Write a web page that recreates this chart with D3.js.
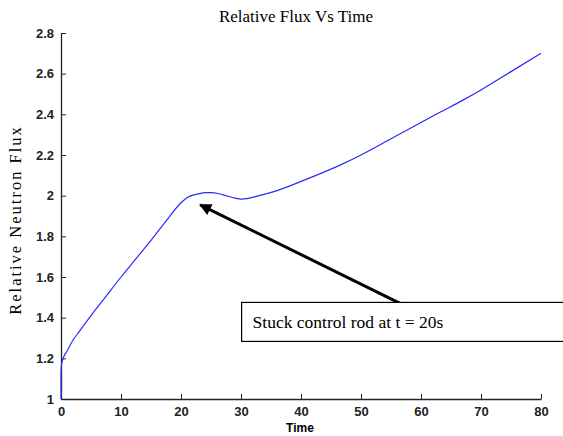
<!DOCTYPE html>
<html>
<head>
<meta charset="utf-8">
<script src="https://cdn.jsdelivr.net/npm/d3@7"></script>
<style>
  body { margin: 0; background: #fff; }
  svg { display: block; }
</style>
</head>
<body>
<svg id="chart" width="563" height="436"></svg>
<script>
// time (s) and relative flux
var time = [0, 0, 0.05, 0.2, 0.5, 1, 2, 3, 5, 7.5, 10, 12.5, 15, 17.5, 20, 21, 22, 23, 24, 25, 26, 27, 28, 29, 30, 31, 33, 36, 40, 46.5, 50, 55, 60, 62.5, 67, 70, 75, 80]
var flux = [1.0, 1.12, 1.16, 1.185, 1.21, 1.235, 1.29, 1.33, 1.41, 1.505, 1.60, 1.69, 1.78, 1.875, 1.965, 1.99, 2.003, 2.01, 2.015, 2.015, 2.012, 2.004, 1.996, 1.988, 1.983, 1.985, 2.0, 2.025, 2.07, 2.15, 2.2, 2.28, 2.36, 2.4, 2.47, 2.52, 2.61, 2.70]
var xTicks = [0, 10, 20, 30, 40, 50, 60, 70, 80]
var yTicks = [1, 1.2, 1.4, 1.6, 1.8, 2, 2.2, 2.4, 2.6, 2.8]
var note = 'Stuck control rod at t = 20s'

var svg = d3.select('#chart')
var margin = {top: 33, right: 22, bottom: 37, left: 61}
var width = 563 - margin.left - margin.right
var height = 436 - margin.top - margin.bottom

var x = d3.scaleLinear().domain([0, 80]).range([0, width])
var y = d3.scaleLinear().domain([1, 2.8]).range([height, 0])

var g = svg.append('g')
  .attr('transform', 'translate(' + margin.left + ',' + margin.top + ')')

var xAxis = g.append('g')
  .attr('transform', 'translate(0,' + height + ')')
  .call(d3.axisBottom(x).tickValues(xTicks).tickSize(-5).tickSizeOuter(0).tickPadding(8))
var yAxis = g.append('g')
  .call(d3.axisLeft(y).tickValues(yTicks).tickFormat(d3.format('')).tickSize(-5).tickSizeOuter(0).tickPadding(7))

g.selectAll('.domain').style('stroke', '#222').style('stroke-width', 1.3)
g.selectAll('.tick line').style('stroke', '#222')
g.selectAll('.tick text')
  .style('font-family', 'Arial, "Liberation Sans", sans-serif')
  .style('font-size', '13px')
  .style('font-weight', 'bold')
  .style('fill', '#222')

var pts = time.map(function(t, i){ return [t, flux[i]] })
var line = d3.line()
  .x(function(d){ return x(d[0]) })
  .y(function(d){ return y(d[1]) })
  .curve(d3.curveMonotoneX)

g.append('path')
  .datum(pts)
  .attr('d', line)
  .style('fill', 'none')
  .style('stroke', '#2a2aff')
  .style('stroke-width', 1.2)

// titles
svg.append('text')
  .attr('x', 296).attr('y', 22)
  .attr('text-anchor', 'middle')
  .style('font-family', '"Liberation Serif", "Times New Roman", serif')
  .style('font-size', '17px')
  .text('Relative Flux Vs Time')

svg.append('text')
  .attr('x', 300).attr('y', 432)
  .attr('text-anchor', 'middle')
  .style('font-family', 'Arial, "Liberation Sans", sans-serif')
  .style('font-size', '12px')
  .style('font-weight', 'bold')
  .text('Time')

svg.append('text')
  .attr('transform', 'translate(21,220) rotate(-90)')
  .attr('text-anchor', 'middle')
  .style('font-family', '"Liberation Serif", "Times New Roman", serif')
  .style('font-size', '16.5px')
  .style('letter-spacing', '2px')
  .text('Relative Neutron Flux')

// annotation arrow
svg.append('defs').append('marker')
  .attr('id', 'head')
  .attr('viewBox', '0 0 10 10')
  .attr('refX', 9).attr('refY', 5)
  .attr('markerWidth', 5).attr('markerHeight', 4)
  .attr('markerUnits', 'strokeWidth')
  .attr('orient', 'auto')
  .append('path')
  .attr('d', 'M0,0 L10,5 L0,10 Z')
  .style('fill', '#000')

g.append('line')
  .attr('x1', x(56.5)).attr('y1', y(1.47))
  .attr('x2', x(23.2)).attr('y2', y(1.955))
  .style('stroke', '#000')
  .style('stroke-width', 3)
  .attr('marker-end', 'url(#head)')

var box = g.append('g')
  .attr('transform', 'translate(' + x(30.1) + ',' + y(1.475) + ')')
box.append('rect')
  .attr('width', 340).attr('height', 39)
  .style('fill', '#fff')
  .style('stroke', '#000')
  .style('stroke-width', 1.2)
box.append('text')
  .attr('x', 11).attr('y', 26)
  .style('font-family', '"Liberation Serif", "Times New Roman", serif')
  .style('font-size', '17.5px')
  .text(note)
</script>
</body>
</html>
